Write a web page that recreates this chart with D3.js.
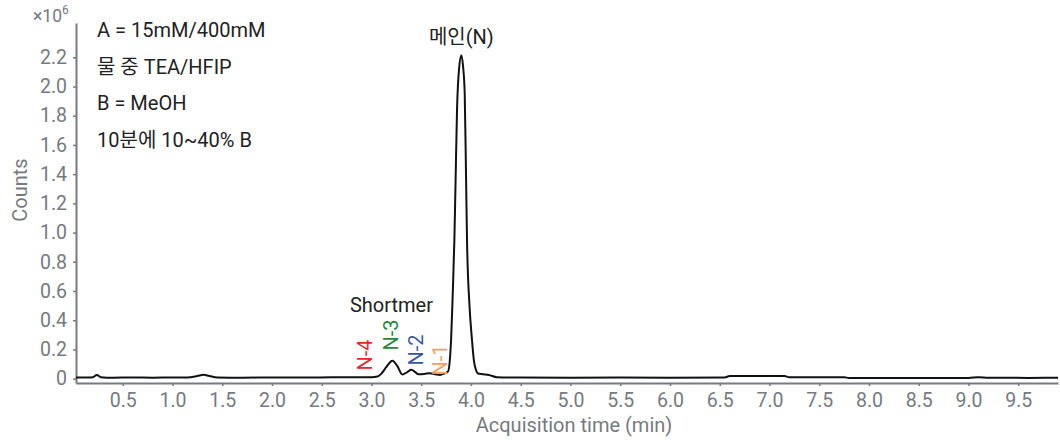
<!DOCTYPE html>
<html><head><meta charset="utf-8">
<script src="https://cdn.jsdelivr.net/npm/d3@7"></script>
<style>body{margin:0;background:#fff}svg{display:block;font-family:Roboto,"Noto Sans CJK KR",sans-serif}</style>
</head><body>
<svg id="c" width="1060" height="440"></svg>
<script>
const times = [0.03,0.15,0.20,0.24,0.28,0.4,0.6,0.8,1.0,1.15,1.25,1.31,1.37,1.45,1.7,2.0,2.3,2.6,2.9,3.0,3.06,3.10,3.15,3.21,3.26,3.31,3.36,3.40,3.44,3.47,3.53,3.585,3.64,3.69,3.73,3.77,3.79,3.80,3.815,3.833,3.845,3.86,3.88,3.903,3.92,3.937,3.95,3.96,3.985,4.01,4.03,4.05,4.07,4.12,4.18,4.26,4.5,5.0,5.5,6.0,6.55,6.6,7.15,7.2,7.75,7.8,8.5,9.0,9.1,9.2,9.6,9.9];
const counts = [0.008,0.008,0.01,0.025,0.01,0.006,0.008,0.006,0.008,0.008,0.018,0.026,0.018,0.008,0.006,0.008,0.007,0.009,0.01,0.01,0.014,0.035,0.08,0.123,0.085,0.028,0.045,0.06,0.045,0.03,0.032,0.037,0.03,0.025,0.035,0.05,0.15,0.265,0.55,0.95,1.35,1.85,2.12,2.215,2.14,1.95,1.4,0.95,0.5,0.265,0.12,0.06,0.035,0.03,0.025,0.01,0.007,0.006,0.007,0.006,0.008,0.018,0.018,0.01,0.01,0.004,0.005,0.004,0.01,0.006,0.005,0.006];
const xTicks = [0.5,1.0,1.5,2.0,2.5,3.0,3.5,4.0,4.5,5.0,5.5,6.0,6.5,7.0,7.5,8.0,8.5,9.0,9.5];
const yTicks = [0,0.2,0.4,0.6,0.8,1.0,1.2,1.4,1.6,1.8,2.0,2.2];
const infoLines = ["A = 15mM/400mM","물 중 TEA/HFIP","B = MeOH","10분에 10~40% B"];
const peakLabels = [
  {text:"N-4", t:2.934, v:0.162, color:"#e8262b"},
  {text:"N-3", t:3.196, v:0.299, color:"#1f8a3c"},
  {text:"N-2", t:3.447, v:0.196, color:"#3a55a4"},
  {text:"N-1", t:3.688, v:0.127, color:"#f7a05a"}
];

const svg = d3.select("#c");
const x = d3.scaleLinear().domain([0.03, 9.9]).range([76, 1058]);
const y = d3.scaleLinear().domain([-0.03, 2.435]).range([383, 23]);
const grey = "#767a81";

// axes
const xa = svg.append("g").attr("transform","translate(0,383)")
  .call(d3.axisBottom(x).tickValues(xTicks).tickFormat(d3.format(".1f")).tickSize(3).tickSizeOuter(0));
const ya = svg.append("g").attr("transform","translate(76,0)")
  .call(d3.axisLeft(y).tickValues(yTicks).tickFormat(d=>d===0?"0":d3.format(".1f")(d)).tickSize(3).tickSizeOuter(0));
[xa,ya].forEach(a=>{
  a.select(".domain").attr("stroke",grey).attr("stroke-width",2);
  a.selectAll(".tick line").attr("stroke",grey).attr("stroke-width",1.5);
  a.selectAll(".tick text").attr("fill",grey).attr("font-size",19.5).attr("font-family","Roboto");
});
xa.selectAll(".tick text").attr("dy","0.71em").attr("y",10);
ya.selectAll(".tick text").attr("x",-9);

// axis titles
svg.append("text").attr("x",574).attr("y",432).attr("text-anchor","middle")
  .attr("fill",grey).attr("font-size",20).text("Acquisition time (min)");
svg.append("text").attr("transform","translate(27,190) rotate(-90)").attr("text-anchor","middle")
  .attr("fill",grey).attr("font-size",20).text("Counts");
const mult = svg.append("text").attr("x",33).attr("y",22).attr("fill",grey).attr("font-size",17.5);
mult.append("tspan").text("×10");
mult.append("tspan").attr("dy",-8).attr("font-size",12).text("6");

// line
const line = d3.line().x((d,i)=>x(times[i])).y(d=>y(d)).curve(d3.curveMonotoneX);
svg.append("path").datum(counts).attr("d",line).attr("fill","none")
  .attr("stroke","#111").attr("stroke-width",2).attr("stroke-linejoin","round");

// info text
svg.selectAll(".info").data(infoLines).enter().append("text")
  .attr("x",97).attr("y",(d,i)=>37+i*36.5).attr("fill","#222").attr("font-size",20).text(d=>d);

// annotations
svg.append("text").attr("x",x(3.903)).attr("y",44).attr("text-anchor","middle")
  .attr("fill","#222").attr("font-size",20).text("메인(N)");
svg.append("text").attr("x",x(3.20)).attr("y",312).attr("text-anchor","middle")
  .attr("fill","#222").attr("font-size",20).text("Shortmer");
peakLabels.forEach(p=>{
  svg.append("text").attr("transform",`translate(${x(p.t)+7},${y(p.v)}) rotate(-90)`)
    .attr("text-anchor","middle").attr("fill",p.color).attr("font-size",20).text(p.text);
});
</script>
</body></html>
